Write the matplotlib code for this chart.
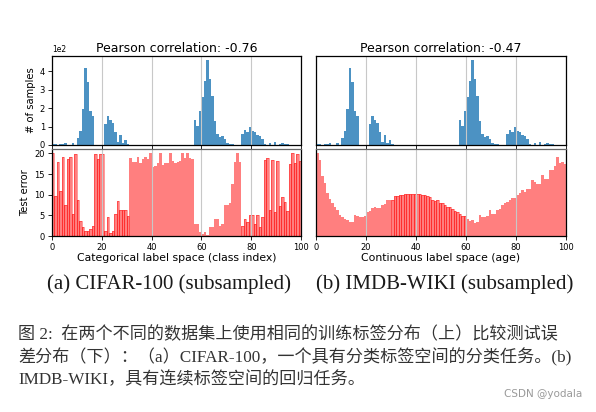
import numpy as np
import matplotlib
matplotlib.use("Agg")
import matplotlib.pyplot as plt

# training label histogram (same for both datasets), counts per bin
label_bins = np.arange(100)
hist_counts = np.array([
    6, 6, 0, 6, 7, 10, 0, 0, 12, 0,
    38, 78, 197, 417, 340, 187, 155, 0, 0, 0,
    0, 112, 160, 138, 120, 68, 15, 52, 12, 25,
    5, 0, 0, 0, 0, 0, 0, 0, 0, 0,
    0, 0, 0, 0, 0, 0, 0, 0, 0, 0,
    0, 0, 0, 0, 0, 0, 0, 138, 105, 187,
    260, 345, 460, 360, 265, 130, 62, 42, 50, 30,
    12, 5, 5, 0, 0, 0, 62, 80, 70, 95,
    75, 70, 55, 50, 35, 4, 0, 10, 0, 18,
    0, 8, 10, 5, 5, 0, 0, 0, 0, 0])

cifar_err = np.array([
    20.1, 9.6, 17.9, 10.9, 19.1, 7.6, 18.6, 19.1, 5.4, 19.8,
    8.7, 3.7, 2.1, 1.2, 1.2, 1.6, 2.5, 19.8, 18.6, 19.8,
    19.8, 1.3, 4.5, 0.7, 1.3, 5.4, 8.4, 6.2, 6.3, 6.3,
    4.8, 18.9, 18.0, 18.0, 19.1, 17.8, 18.6, 19.1, 18.6, 20.2,
    16.7, 17.0, 17.6, 20.2, 17.2, 17.6, 17.6, 20.0, 18.1, 17.8,
    17.9, 18.2, 20.1, 18.9, 20.1, 18.9, 18.7, 3.0, 3.0, 1.0,
    0.4, 1.0, 0.3, 2.1, 2.3, 4.2, 4.2, 2.4, 2.8, 7.5,
    7.5, 8.0, 12.6, 17.9, 20.2, 17.9, 2.4, 4.2, 3.4, 5.1,
    5.0, 3.0, 5.0, 2.3, 4.6, 18.4, 18.8, 6.3, 18.5, 5.9,
    18.1, 7.2, 9.5, 8.3, 6.0, 17.5, 20.0, 17.6, 19.8, 18.3])

imdb_err = np.array([
    20.2, 18.5, 14.5, 12.8, 10.4, 9.0, 8.0, 7.0, 6.2, 5.0,
    4.5, 4.1, 3.9, 3.3, 3.3, 5.0, 4.9, 4.7, 4.7, 4.9,
    5.9, 6.1, 6.9, 7.1, 6.7, 6.7, 7.6, 7.8, 8.7, 8.8,
    8.8, 9.8, 9.8, 9.9, 10.0, 10.1, 10.1, 10.1, 10.1, 10.1,
    10.1, 10.1, 10.0, 10.0, 9.8, 9.5, 8.8, 8.5, 8.7, 8.1,
    7.9, 7.4, 7.0, 7.0, 6.6, 6.0, 5.8, 5.3, 4.8, 4.8,
    4.2, 3.6, 3.8, 3.2, 3.4, 5.0, 4.5, 4.5, 4.9, 6.4,
    5.3, 5.4, 6.4, 6.6, 7.4, 7.9, 8.3, 8.7, 9.1, 9.3,
    9.9, 10.3, 11.1, 10.7, 11.5, 11.3, 13.5, 13.1, 12.7, 12.7,
    14.7, 13.9, 13.9, 16.1, 16.0, 16.9, 19.2, 17.6, 18.0, 17.4])

titles = ["Pearson correlation: -0.76", "Pearson correlation: -0.47"]
xlabels = ["Categorical label space (class index)", "Continuous label space (age)"]
captions = ["(a) CIFAR-100 (subsampled)", "(b) IMDB-WIKI (subsampled)"]
cn_lines = [
    "图 2:  在两个不同的数据集上使用相同的训练标签分布（上）比较测试误",
    "差分布（下）：（a）CIFAR-100，一个具有分类标签空间的分类任务。(b)",
    "IMDB-WIKI，具有连续标签空间的回归任务。",
]

W, H = 596, 412
fig = plt.figure(figsize=(W / 100, H / 100), dpi=100)


def box(x0, y0, x1, y1):
    return [x0 / W, 1 - y1 / H, (x1 - x0) / W, (y1 - y0) / H]


def style(ax):
    ax.set_xlim(0, 100)
    ax.set_xticks([0, 20, 40, 60, 80, 100])
    ax.grid(axis='x', color='#c8c8c8', lw=0.8)
    ax.grid(axis='y', visible=False)
    ax.tick_params(labelsize=6, length=3, width=0.6, pad=2)
    for s in ax.spines.values():
        s.set_linewidth(0.9)


errs = [cifar_err, imdb_err]
edge_ranges = [[(0, 31), (76, 100)], [(30, 60)]]
cols = [(52, 301), (316, 566)]

for i in range(2):
    x0, x1 = cols[i]
    top = fig.add_axes(box(x0, 56, x1, 145))
    bot = fig.add_axes(box(x0, 148.5, x1, 236))

    top.bar(label_bins, hist_counts, width=1, align='edge', color='C0', alpha=0.8)
    style(top)
    top.set_xticklabels([])
    top.set_title(titles[i], fontsize=9, pad=3)

    bot.bar(label_bins, errs[i], width=1, align='edge', color='r', alpha=0.5, lw=0)
    for a, b in edge_ranges[i]:
        bot.bar(label_bins[a:b], errs[i][a:b], width=1, align='edge', fill=False,
                edgecolor='r', alpha=0.55, lw=0.5)
    style(bot)
    bot.set_xlabel(xlabels[i], fontsize=7.8, labelpad=1)
    bot.spines['top'].set_color('#666666')

    if i == 0:
        top.ticklabel_format(axis='y', style='sci', scilimits=(2, 2))
        top.yaxis.get_offset_text().set_fontsize(5.5)
        top.set_yticks([0, 100, 200, 300, 400])
        top.set_ylabel("# of samples", fontsize=7.2, labelpad=3)
        bot.set_yticks([0, 5, 10, 15, 20])
        bot.set_ylabel("Test error", fontsize=7.2, labelpad=3)
    else:
        top.set_yticks([])
        bot.set_yticks([])
        bot.set_ylim(0, 21.2)

    fig.text((x0 + x1) / 2 / W + (0.006 if i else -0.012), 1 - 284 / H, captions[i],
             family='Liberation Serif', fontsize=15, ha='center', va='center',
             color='#1a1a1a')

for k, line in enumerate(cn_lines):
    fig.text(18 / W, 1 - (335 + 22.5 * k) / H, line,
             family=['Liberation Serif', 'Noto Sans CJK SC'], fontsize=12.3,
             ha='left', va='center', color='#333333')

fig.text(582 / W, 1 - 394 / H, "CSDN @yodala", fontsize=7.5, color='#9a9a9a',
         ha='right', va='center')

fig.savefig("out.png", dpi=100)
